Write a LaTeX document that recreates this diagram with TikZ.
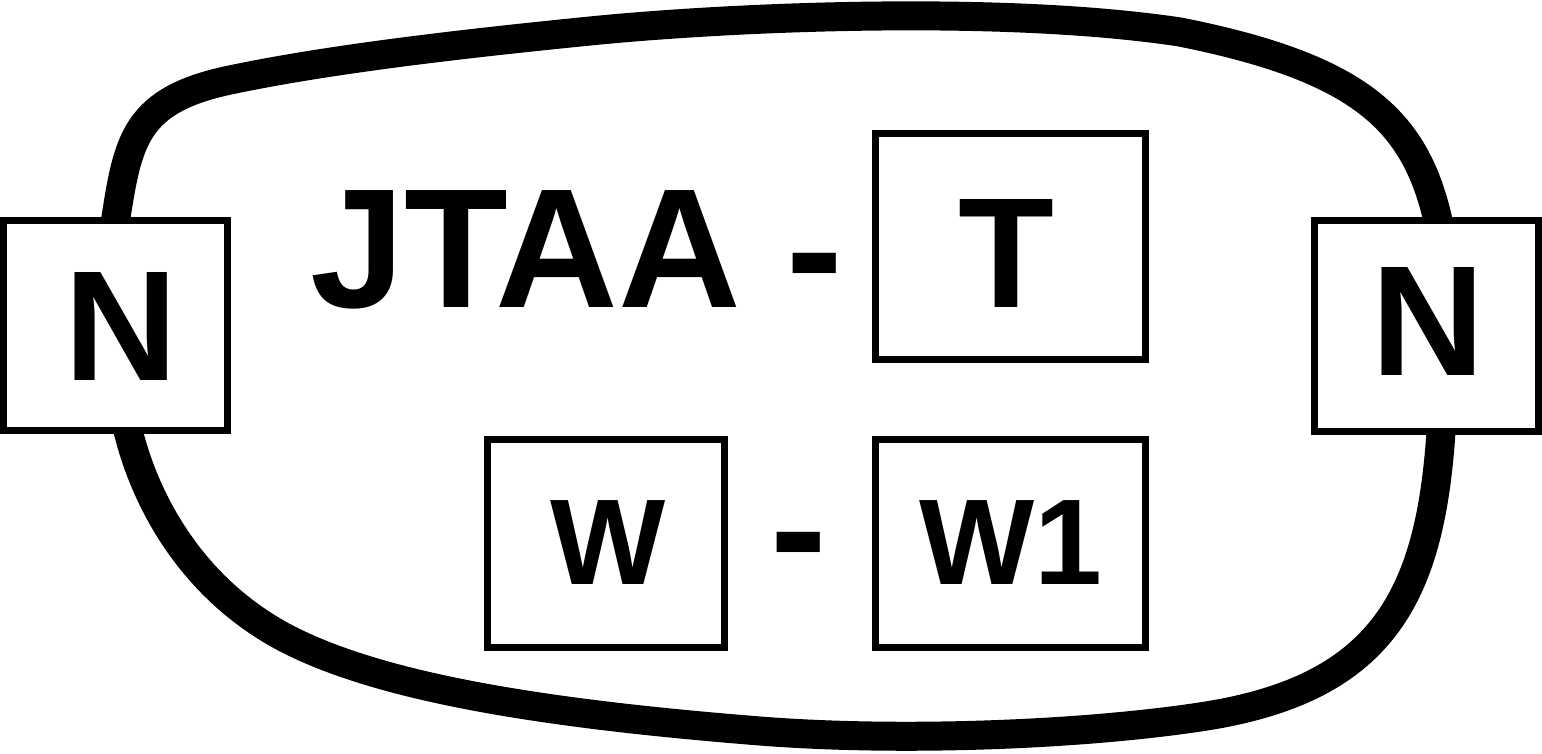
\documentclass[tikz,border=0pt]{standalone}
\usepackage{fontspec}
\setmainfont{Liberation Sans}
\usetikzlibrary{backgrounds,calc}
\begin{document}
\begin{tikzpicture}[x=1pt,y=-1pt,
  box/.style={draw,line width=7pt,fill=white,inner sep=0pt,outer sep=0pt},
  bigtxt/.style={font=\bfseries\fontsize{157}{157}\selectfont,inner sep=0pt},
  midtxt/.style={font=\bfseries\fontsize{122}{122}\selectfont,inner sep=0pt},
  hugetxt/.style={font=\bfseries\fontsize{170}{170}\selectfont,inner sep=0pt,outer sep=0pt},
  loopline/.style={draw,line width=29pt,line join=round}]
\useasboundingbox (0,0) rectangle (1542,753);
% boxes
\node[box,minimum width=224pt,minimum height=210pt] (Nl) at (115.5,325.5) {};
\node[box,minimum width=224pt,minimum height=211pt] (Nr) at (1426.5,326) {};
\node[box,minimum width=270pt,minimum height=226pt] (T) at (1010.5,246.5) {};
\node[box,minimum width=237pt,minimum height=208pt] (W) at (606,543.5) {};
\node[box,minimum width=270pt,minimum height=208pt] (W1) at (1010.5,543.5) {};
% box labels
\node[bigtxt] (Nltext) at ($(Nl.center)+(6,0.5)$) {N};
\node[bigtxt] (Nrtext) at ($(Nr.center)+(2,-4.5)$) {N};
\node[bigtxt] (Ttext) at ($(T.center)+(-4.5,6.5)$) {T};
\node[midtxt] (Wtext) at ($(W.center)+(2.5,-0.5)$) {W};
\node[midtxt] (W1text) at ($(W1.center)+(0,-0.5)$) {W1};
% free texts
\node[hugetxt,anchor=base west] (J) at (310,307) {JTAA};
\node[hugetxt,anchor=base] (d1) at (815,307) {-};
\node[hugetxt,anchor=base] (d2) at (799,586) {-};
% loop
\begin{scope}[on background layer]
\path[loopline] (Nl.north)
  .. controls (128,140) and (135,100) .. (230,80)
  .. controls (325,60) and (450,45) .. (590,31)
  .. controls (730,17) and (1000,5) .. (1180,32)
  .. controls (1360,68) and (1415,120) .. ($(Nr.north)+(11.5,0)$)
  -- ($(Nr.south)+(14.5,0)$)
  .. controls (1430,600) and (1380,690) .. (1200,717)
  .. controls (1080,735) and (900,742) .. (760,731)
  .. controls (560,715) and (380,690) .. (280,635)
  .. controls (190,585) and (145,500) .. ($(Nl.south)+(12.5,0)$)
  -- cycle;
\end{scope}
\end{tikzpicture}
\end{document}
